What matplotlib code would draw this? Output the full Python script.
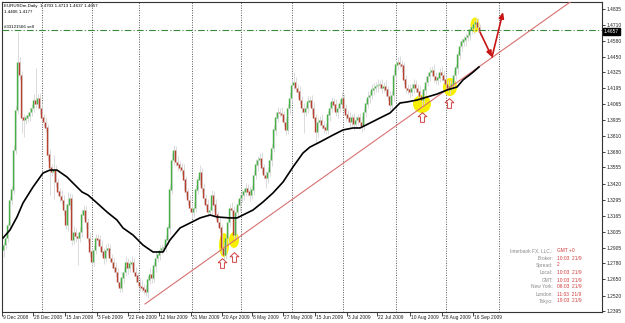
import matplotlib
matplotlib.use("Agg")
import matplotlib.pyplot as plt
from matplotlib.patches import Ellipse
import matplotlib.transforms as mtransforms

plt.rcParams["font.family"] = ["Liberation Sans", "DejaVu Sans"]

# EURUSDm daily, one entry per bar
first_open = 1.2888
closes = [
    1.2928, 1.2985, 1.3090, 1.3292, 1.3373, 1.3696, 1.4019, 1.4407, 1.4302, 1.3955,
    1.3938, 1.3955, 1.3971, 1.4003, 1.4035, 1.4100, 1.4068, 1.4116, 1.4035, 1.3955,
    1.3922, 1.3874, 1.3656, 1.3551, 1.3518, 1.3534, 1.3437, 1.3357, 1.3324, 1.3292,
    1.3211, 1.3090, 1.3252, 1.3308, 1.2969, 1.3033, 1.3001, 1.2985, 1.3033, 1.3171,
    1.3211, 1.3114, 1.2985, 1.2872, 1.2791, 1.2888, 1.2985, 1.2969, 1.2920, 1.2872,
    1.2823, 1.2888, 1.2904, 1.2823, 1.2791, 1.2743, 1.2710, 1.2629, 1.2581, 1.2662,
    1.2710, 1.2791, 1.2743, 1.2775, 1.2791, 1.2710, 1.2678, 1.2629, 1.2597, 1.2581,
    1.2565, 1.2549, 1.2646, 1.2694, 1.2662, 1.2759, 1.2823, 1.2848, 1.2888, 1.2904,
    1.2912, 1.2969, 1.3066, 1.3373, 1.3615, 1.3696, 1.3599, 1.3575, 1.3551, 1.3534,
    1.3454, 1.3357, 1.3292, 1.3227, 1.3195, 1.3227, 1.3373, 1.3454, 1.3518, 1.3389,
    1.3308, 1.3252, 1.3195, 1.3211, 1.3332, 1.3252, 1.3171, 1.3114, 1.3066, 1.2904,
    1.2848, 1.2985, 1.3114, 1.3227, 1.3211, 1.3009, 1.3195, 1.3252, 1.3308, 1.3332,
    1.3357, 1.3389, 1.3357, 1.3332, 1.3373, 1.3494, 1.3575, 1.3615, 1.3631, 1.3551,
    1.3494, 1.3470, 1.3518, 1.3615, 1.3712, 1.3858, 1.3955, 1.4003, 1.3995, 1.3979,
    1.3922, 1.3858, 1.4035, 1.4116, 1.4221, 1.4245, 1.4197, 1.4165, 1.4100, 1.4035,
    1.4003, 1.4035, 1.4084, 1.4100, 1.4035, 1.3955, 1.3841, 1.3922, 1.3938, 1.3898,
    1.3874, 1.3858, 1.3979, 1.4035, 1.4084, 1.4060, 1.4003, 1.4035, 1.4068, 1.4116,
    1.4035, 1.3979, 1.3955, 1.3922, 1.3955, 1.3906, 1.3938, 1.3955, 1.3922, 1.3890,
    1.4003, 1.4068, 1.4124, 1.4140, 1.4181, 1.4197, 1.4213, 1.4221, 1.4229, 1.4197,
    1.4213, 1.4181, 1.4132, 1.4060, 1.4140, 1.4302, 1.4383, 1.4407, 1.4391, 1.4375,
    1.4262, 1.4197, 1.4181, 1.4165, 1.4197, 1.4229, 1.4197, 1.4165, 1.4132, 1.4100,
    1.4181, 1.4245, 1.4294, 1.4326, 1.4342, 1.4294, 1.4262, 1.4278, 1.4326, 1.4302,
    1.4262, 1.4229, 1.4197, 1.4213, 1.4229, 1.4302, 1.4359, 1.4464, 1.4536, 1.4569,
    1.4585, 1.4609, 1.4625, 1.4666, 1.4682, 1.4714, 1.4730, 1.4690, 1.4657,
]
# wick lengths above / below the body, in pips
wick_hi = [
    25, 30, 20, 35, 30, 40, 30, 242, 40, 30, 35, 25, 30, 40, 30, 45, 260, 35, 40, 30,
    30, 40, 35, 50, 30, 120, 40, 35, 30, 45, 40, 50, 105, 40, 30, 45, 30, 35, 40, 50,
    40, 35, 30, 45, 30, 40, 35, 30, 40, 45, 30, 50, 40, 35, 30, 40, 45, 30, 35, 50,
    40, 45, 30, 35, 50, 30, 40, 35, 30, 45, 30, 40, 35, 50, 40, 30, 45, 35, 40, 30,
    35, 40, 30, 45, 60, 40, 35, 50, 30, 40, 45, 35, 30, 40, 35, 50, 40, 30, 55, 35,
    40, 30, 45, 35, 40, 30, 50, 35, 40, 30, 45, 35, 40, 30, 45, 35, 40, 50, 30, 45,
    35, 40, 30, 45, 40, 35, 50, 30, 40, 45, 35, 30, 40, 45, 35, 40, 50, 40, 30, 45,
    35, 40, 30, 45, 50, 80, 40, 35, 45, 30, 40, 35, 50, 30, 40, 45, 35, 40, 30, 45,
    35, 40, 30, 45, 40, 35, 50, 30, 40, 45, 35, 30, 40, 45, 35, 40, 30, 35, 40, 45,
    30, 40, 45, 35, 50, 40, 35, 45, 30, 40, 35, 45, 30, 40, 35, 50, 40, 40, 45, 35,
    30, 40, 35, 45, 30, 40, 35, 30, 45, 40, 35, 45, 30, 40, 35, 45, 30, 40, 35, 45,
    40, 35, 30, 45, 35, 40, 30, 35, 40, 30, 35, 30, 40, 30, 35, 30, 32, 30, 25,
]
wick_lo = [
    60, 30, 35, 30, 40, 30, 35, 30, 40, 121, 140, 35, 30, 40, 30, 35, 30, 40, 45, 35,
    40, 30, 45, 218, 35, 220, 40, 30, 45, 35, 40, 30, 45, 35, 40, 30, 45, 220, 35, 40,
    35, 45, 30, 40, 60, 35, 30, 45, 40, 35, 50, 30, 40, 35, 45, 30, 40, 35, 30, 35,
    40, 35, 45, 30, 40, 35, 45, 30, 40, 35, 30, 30, 45, 35, 40, 30, 45, 35, 40, 30,
    35, 40, 30, 45, 35, 40, 30, 45, 35, 40, 80, 35, 40, 30, 45, 40, 35, 30, 40, 35,
    45, 30, 40, 35, 30, 45, 35, 40, 30, 45, 55, 35, 40, 30, 45, 35, 40, 30, 45, 35,
    40, 35, 30, 45, 35, 40, 30, 45, 35, 40, 30, 80, 40, 35, 45, 30, 40, 35, 30, 45,
    35, 40, 30, 45, 35, 40, 30, 45, 35, 40, 170, 30, 40, 35, 45, 30, 90, 40, 35, 30,
    40, 35, 30, 45, 35, 40, 30, 45, 35, 40, 30, 45, 35, 40, 30, 45, 35, 40, 30, 45,
    35, 40, 30, 45, 35, 40, 30, 45, 35, 40, 30, 45, 35, 40, 30, 45, 35, 40, 30, 45,
    35, 40, 30, 45, 35, 40, 30, 45, 35, 57, 30, 45, 35, 40, 30, 45, 35, 40, 30, 45,
    35, 40, 30, 45, 35, 40, 30, 45, 35, 40, 30, 45, 35, 40, 30, 45, 35, 40, 30,
]

# moving average, sampled along the curve (bar index, price)
ma_bars = [0, 3.5, 7, 10, 15, 20, 23.5, 27, 32, 35, 39.5, 42.5, 47, 52, 57, 60, 65, 70,
           75, 80, 83.5, 88.5, 93.5, 98.5, 103.5, 107, 113.5, 117, 120, 125, 130, 135,
           140, 145, 150, 153.5, 158.5, 165, 170, 175, 178.5, 183.5, 188.5, 193.5,
           198.5, 202, 207, 212, 217, 222, 227, 230, 234.5, 238]
ma_vals = [1.2985, 1.3050, 1.3155, 1.3268, 1.3397, 1.3510, 1.3534, 1.3534, 1.3478,
           1.3429, 1.3357, 1.3332, 1.3268, 1.3195, 1.3130, 1.3066, 1.3009, 1.2928,
           1.2872, 1.2872, 1.2969, 1.3066, 1.3106, 1.3147, 1.3171, 1.3155, 1.3147,
           1.3147, 1.3171, 1.3211, 1.3276, 1.3349, 1.3437, 1.3559, 1.3672, 1.3720,
           1.3761, 1.3817, 1.3858, 1.3874, 1.3874, 1.3914, 1.3955, 1.3995, 1.4076,
           1.4084, 1.4100, 1.4124, 1.4148, 1.4181, 1.4205, 1.4262, 1.4318, 1.4367]

price_ticks = [1.4835, 1.4710, 1.4580, 1.4450, 1.4325, 1.4195, 1.4065, 1.3935, 1.3810,
               1.3680, 1.3555, 1.3420, 1.3295, 1.3165, 1.3035, 1.2905, 1.2780, 1.2650,
               1.2520, 1.2395]
date_labels = ["9 Dec 2008", "28 Dec 2008", "15 Jan 2009", "3 Feb 2009", "22 Feb 2009",
               "12 Mar 2009", "31 Mar 2009", "20 Apr 2009", "8 May 2009", "27 May 2009",
               "15 Jun 2009", "3 Jul 2009", "22 Jul 2009", "10 Aug 2009", "28 Aug 2009",
               "16 Sep 2009"]
date_bars = [-0.5, 15, 31, 47, 62.5, 78, 94, 109.5, 124.5, 140, 156, 172, 187, 203.5,
             219.5, 235]
month_sep_bars = [19.5, 44.5, 68, 94.5, 119, 144.5, 170, 196.5, 221.5, 248]

last_price = 1.4657
order_price = 1.4666
header = "EURUSDm,Daily  1.4703 1.4713 1.4637 1.4657"
header2 = "1.4406 1.4177"

trend_pts = ([71, 285], [1.2452, 1.4908])
path_pts = ([238.5, 244.5, 250], [1.4649, 1.4447, 1.4811])
highlights = [(110.5, 1.2928, 5, 0.0194), (115.5, 1.2969, 5, 0.0129),
              (209.5, 1.4068, 9, 0.0145), (223.5, 1.4205, 7, 0.0145),
              (236, 1.4706, 4.5, 0.0121)]
up_marks_x = [109.5, 115.5, 209.5, 223]
up_marks_y = [1.2783, 1.2831, 1.3963, 1.4075]

info_names = ["Interbank FX, LLC.:", "Broker:", "Spread:", "Local:", "GMT:",
              "New York:", "London:", "Tokyo:"]
info_vals = ["GMT +0", "10:03  21/9", "2", "10:03  21/9", "10:03  21/9",
             "06:03  21/9", "11:03  21/9", "19:03  21/9"]

W, H = 625, 323
FS = 3.5
fig = plt.figure(figsize=(W / 100, H / 100), dpi=100)
ax = fig.add_axes([2 / W, 1 - 312 / H, 600 / W, 310 / H])
ax.set_facecolor("white")

opens = [first_open] + closes[:-1]
for i, (o, c) in enumerate(zip(opens, closes)):
    hi = max(o, c) + wick_hi[i] / 10000
    lo = min(o, c) - wick_lo[i] / 10000
    col = "#46b046" if c >= o else "#b8402e"
    ax.vlines(i + 0.55, lo, hi, color="#d6d6d6", lw=0.6, zorder=3)
    ax.vlines(i, min(o, c), max(o, c) + 0.0004, color=col, lw=1.0, zorder=4)

for cx, cy, w, h in highlights:
    ax.add_patch(Ellipse((cx, cy), w, h, color="#f6f000", lw=0, zorder=2))

ax.plot(ma_bars, ma_vals, color="black", lw=1.2, zorder=5)
ax.plot(*trend_pts, color="#d87070", lw=0.8, zorder=4)
ax.axhline(order_price, color="#3a8a3a", lw=0.8, ls=(0, (6, 2, 1, 2)), zorder=3)

for xb in month_sep_bars:
    ax.axvline(xb, color="#555555", lw=0.7, ls=(0, (1, 1.5)), zorder=1)

arrow_marker = [(0, 1), (-0.9, 0.15), (-0.4, 0.15), (-0.4, -1), (0.4, -1),
                (0.4, 0.15), (0.9, 0.15), (0, 1)]
ax.plot(up_marks_x, up_marks_y, ls="none", marker=arrow_marker, ms=7,
        mfc="white", mec="#d04545", mew=0.7, zorder=6)

px, py = path_pts
for k in range(2):
    ax.annotate("", xy=(px[k + 1], py[k + 1]), xytext=(px[k], py[k]),
                arrowprops=dict(arrowstyle="-|>,head_length=0.35,head_width=0.15",
                                color="#c81414", lw=1.2, shrinkA=0, shrinkB=0),
                zorder=7)

ax.set_xlim(-0.5, 299.5)
ax.set_ylim(1.2387, 1.4892)

ax.yaxis.tick_right()
ax.set_yticks(price_ticks)
ax.set_yticklabels([f"{v:.4f}" for v in price_ticks])
ax.tick_params(axis="y", direction="out", length=2, width=0.6, pad=1.2,
               labelsize=FS, colors="#222222")
ax.set_xticks(date_bars)
ax.set_xticklabels([])
ax.tick_params(axis="x", direction="out", length=3, width=0.6, colors="#222222")
blend_x = mtransforms.blended_transform_factory(ax.transData, ax.transAxes)
for xb, lab in zip(date_bars, date_labels):
    ax.text(xb + 0.6, -0.01, lab, transform=blend_x, ha="left", va="top",
            fontsize=FS, color="#222222")

for s in ax.spines.values():
    s.set_linewidth(0.8)
    s.set_color("#333333")

# price tag on the right axis
ax.text(1.003, last_price, "1.4657", transform=mtransforms.blended_transform_factory(
    ax.transAxes, ax.transData), ha="left", va="center", fontsize=FS, color="white",
    bbox=dict(boxstyle="square,pad=0.2", fc="black", ec="black"), zorder=8)

fig.text(4 / W, 1 - 6 / H, header, fontsize=3.2, va="center", ha="left")
fig.text(4 / W, 1 - 12 / H, header2, fontsize=3.2, va="center", ha="left")
fig.text(4 / W, 1 - 27 / H, "#33121566 sell", fontsize=3.2, va="center", ha="left")

rows_y = [251, 258, 265, 273, 280, 287, 294, 301]
for name, val, yy in zip(info_names, info_vals, rows_y):
    fig.text(553 / W, 1 - yy / H, name, fontsize=FS, color="#8a8a8a",
             ha="right", va="center")
    fig.text(557 / W, 1 - yy / H, val, fontsize=FS, color="#d03a3a",
             ha="left", va="center")

fig.savefig("out.png", dpi=100, facecolor="white")
